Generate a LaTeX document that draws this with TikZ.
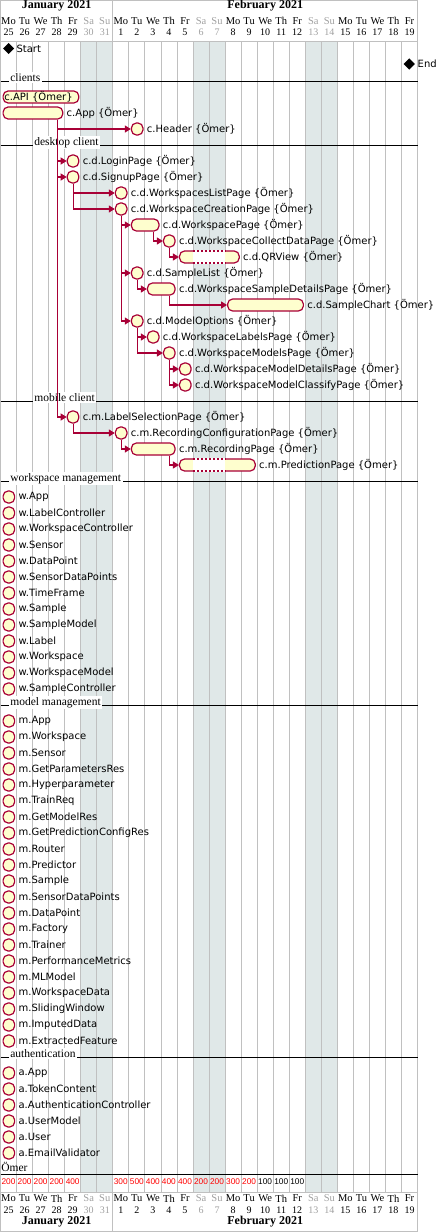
\documentclass[tikz,border=0pt]{standalone}
\usepackage{fontspec}
\usetikzlibrary{positioning,arrows.meta,shapes.geometric}
\newfontfamily\taskfont{DejaVu Sans}
\newfontfamily\calfont{Liberation Serif}
\newfontfamily\loadfont{Liberation Sans}
\definecolor{crim}{HTML}{A80036}
\definecolor{barfill}{HTML}{FEFECE}
\definecolor{offday}{HTML}{E0E8E8}
\definecolor{gridgray}{HTML}{C0C0C0}
\definecolor{offtext}{HTML}{A0A0A0}

\tikzset{every picture/.style={line width=0.75pt}}
\tikzset{
  gbar/.style={draw=crim, fill=barfill, line width=1.2pt, rounded corners=5pt, minimum height=12pt, inner sep=0pt, anchor=west},
  glabel/.style={font=\taskfont\fontsize{10}{12}\selectfont, inner sep=0pt},
  glink/.style={draw=crim, line width=1.2pt, -{Triangle[length=6pt,width=7pt]}},
  gsec/.style={font=\calfont\fontsize{11.5}{13}\selectfont, inner sep=1.5pt, fill=white, anchor=base west},
  gsepline/.style={draw=black, line width=0.9pt},
  mstone/.style={diamond, fill=black, inner sep=0pt, minimum width=11.5pt, minimum height=11.5pt},
  monthname/.style={font=\calfont\bfseries\fontsize{12}{14}\selectfont, inner sep=0pt},
  dayname/.style={font=\calfont\fontsize{10.5}{12}\selectfont, inner sep=0pt},
  daynum/.style={font=\calfont\fontsize{10}{12}\selectfont, inner sep=0pt},
  loadnum/.style={font=\loadfont\fontsize{8.3}{10}\selectfont, inner sep=0pt}
}

% task bar: name, row, first day, last day, label
\newcommand{\gtask}[5]{%
  \node[gbar, minimum width={16.04*(#4-#3+1)-4.5}] (#1) at ({2.5+16.04*#3},{49+16*#2}) {};
  \node[glabel, right=3pt of #1] (#1-l) {#5};}

\begin{document}
\begin{tikzpicture}[x=1pt,y=1pt,yscale=-1,xscale=1]
\useasboundingbox (0,0) rectangle (437,1232);

%Closed days
\foreach \d in {5,6,12,13,19,20}
  \fill[offday] ({0.5+16.04*\d},41) rectangle ({0.5+16.04*(\d+1)},1192);
%Day lines
\foreach \d in {1,...,25}
  \draw[gridgray] ({0.5+16.04*\d},41) -- ({0.5+16.04*\d},1192);
%Frame
\draw[gridgray] (0.5,0.5) rectangle (417.54,1231);
\draw[gridgray] (0.5,41) -- (417.54,41);
\draw[gridgray] (0.5,1192) -- (417.54,1192);
\draw[gridgray] (112.78,0.5) -- (112.78,41);
\draw[gridgray] (112.78,1192) -- (112.78,1231);

% Month Nodes
\node[monthname] (jan-top) at (56.6,6) {January 2021};
\node[monthname] (feb-top) at (265.2,6) {February 2021};
\node[monthname] (jan-bot) at (56.6,1221.5) {January 2021};
\node[monthname] (feb-bot) at (265.2,1221.5) {February 2021};

% Day Nodes
\foreach \d/\n/\m/\c in {0/Mo/25/black,1/Tu/26/black,2/We/27/black,3/Th/28/black,4/Fr/29/black,5/Sa/30/offtext,6/Su/31/offtext,
    7/Mo/1/black,8/Tu/2/black,9/We/3/black,10/Th/4/black,11/Fr/5/black,12/Sa/6/offtext,13/Su/7/offtext,
    14/Mo/8/black,15/Tu/9/black,16/We/10/black,17/Th/11/black,18/Fr/12/black,19/Sa/13/offtext,20/Su/14/offtext,
    21/Mo/15/black,22/Tu/16/black,23/We/17/black,24/Th/18/black,25/Fr/19/black}{
  \node[dayname, text=\c] at ({8.52+16.04*\d},21) {\n};
  \node[daynum, text=\c] at ({8.52+16.04*\d},32) {\m};
  \node[dayname, text=\c] at ({8.52+16.04*\d},1198.5) {\n};
  \node[daynum, text=\c] at ({8.52+16.04*\d},1210) {\m};
}

% Milestones
\node[mstone] (start) at (8.6,48.5) {};
\node[glabel, right=1.5pt of start] (start-l) {Start};
\node[mstone] (end) at (409.2,64) {};
\node[glabel, right=2pt of end] (end-l) {End};

% Separators
\draw[gsepline] (0.5,81) -- (417.54,81);
\node[gsec] (sec-clients) at (8.5,81) {clients};
\draw[gsepline] (0.5,145) -- (417.54,145);
\node[gsec] (sec-desktop) at (32.5,145) {desktop client};
\draw[gsepline] (0.5,401) -- (417.54,401);
\node[gsec] (sec-mobile) at (32.5,401) {mobile client};
\draw[gsepline] (0.5,481) -- (417.54,481);
\node[gsec] (sec-workspace) at (8.5,481) {workspace management};
\draw[gsepline] (0.5,705) -- (417.54,705);
\node[gsec] (sec-model) at (8.5,705) {model management};
\draw[gsepline] (0.5,1057) -- (417.54,1057);
\node[gsec] (sec-auth) at (8.5,1057) {authentication};

% clients
\node[gbar, minimum width={16.04*5-4.5}] (api) at (2.5,97) {};
\node[glabel, anchor=west] (api-l) at ([xshift=1.5pt]api.west) {c.API \{Ömer\}};
\gtask{app}{4}{0}{3}{c.App \{Ömer\}}
\gtask{header}{5}{8}{8}{c.Header \{Ömer\}}

% desktop client
\gtask{login}{7}{4}{4}{c.d.LoginPage \{Ömer\}}
\gtask{signup}{8}{4}{4}{c.d.SignupPage \{Ömer\}}
\gtask{wslist}{9}{7}{7}{c.d.WorkspacesListPage \{Ömer\}}
\gtask{wscreate}{10}{7}{7}{c.d.WorkspaceCreationPage \{Ömer\}}
\gtask{wspage}{11}{8}{9}{c.d.WorkspacePage \{Ömer\}}
\gtask{collect}{12}{10}{10}{c.d.WorkspaceCollectDataPage \{Ömer\}}
\gtask{qrview}{13}{11}{14}{c.d.QRView \{Ömer\}}
\gtask{samplelist}{14}{8}{8}{c.d.SampleList \{Ömer\}}
\gtask{sampledet}{15}{9}{10}{c.d.WorkspaceSampleDetailsPage \{Ömer\}}
\gtask{chart}{16}{14}{18}{c.d.SampleChart \{Ömer\}}
\gtask{modelopt}{17}{8}{8}{c.d.ModelOptions \{Ömer\}}
\gtask{labels}{18}{9}{9}{c.d.WorkspaceLabelsPage \{Ömer\}}
\gtask{models}{19}{10}{10}{c.d.WorkspaceModelsPage \{Ömer\}}
\gtask{modeldet}{20}{11}{11}{c.d.WorkspaceModelDetailsPage \{Ömer\}}
\gtask{classify}{21}{11}{11}{c.d.WorkspaceModelClassifyPage \{Ömer\}}

% mobile client
\gtask{labelsel}{23}{4}{4}{c.m.LabelSelectionPage \{Ömer\}}
\gtask{recconf}{24}{7}{7}{c.m.RecordingConfigurationPage \{Ömer\}}
\gtask{recording}{25}{8}{10}{c.m.RecordingPage \{Ömer\}}
\gtask{predict}{26}{11}{15}{c.m.PredictionPage \{Ömer\}}

%Weekend parts of the long tasks
\fill[white] (192.97,250.3) rectangle (225.06,263.7);
\draw[crim, line width=1.2pt, dash pattern=on 2pt off 2pt] (192.97,251) -- (225.06,251) (192.97,263) -- (225.06,263);
\fill[white] (192.97,458.3) rectangle (225.06,471.7);
\draw[crim, line width=1.2pt, dash pattern=on 2pt off 2pt] (192.97,459) -- (225.06,459) (192.97,471) -- (225.06,471);

% Links
\draw[glink] ([xshift=-6pt]app.south east) |- (header.west);
\draw[glink] ([xshift=-6pt]app.south east) |- (login.west);
\draw[glink] ([xshift=-6pt]app.south east) |- (signup.west);
\draw[glink] ([xshift=-6pt]app.south east) |- (labelsel.west);
\draw[glink] ([xshift=-6pt]signup.south east) |- (wslist.west);
\draw[glink] ([xshift=-6pt]signup.south east) |- (wscreate.west);
\draw[glink] ([xshift=-6pt]wscreate.south east) |- (wspage.west);
\draw[glink] ([xshift=-6pt]wscreate.south east) |- (samplelist.west);
\draw[glink] ([xshift=-6pt]wscreate.south east) |- (modelopt.west);
\draw[glink] ([xshift=-6pt]wspage.south east) |- (collect.west);
\draw[glink] ([xshift=-6pt]collect.south east) |- (qrview.west);
\draw[glink] ([xshift=-6pt]samplelist.south east) |- (sampledet.west);
\draw[glink] ([xshift=-6pt]sampledet.south east) |- (chart.west);
\draw[glink] ([xshift=-6pt]modelopt.south east) |- (labels.west);
\draw[glink] ([xshift=-6pt]modelopt.south east) |- (models.west);
\draw[glink] ([xshift=-6pt]models.south east) |- (modeldet.west);
\draw[glink] ([xshift=-6pt]models.south east) |- (classify.west);
\draw[glink] ([xshift=-6pt]labelsel.south east) |- (recconf.west);
\draw[glink] ([xshift=-6pt]recconf.south east) |- (recording.west);
\draw[glink] ([xshift=-6pt]recording.south east) |- (predict.west);

% workspace management
\gtask{w-app}{28}{0}{0}{w.App}
\gtask{w-labelctrl}{29}{0}{0}{w.LabelController}
\gtask{w-wsctrl}{30}{0}{0}{w.WorkspaceController}
\gtask{w-sensor}{31}{0}{0}{w.Sensor}
\gtask{w-datapoint}{32}{0}{0}{w.DataPoint}
\gtask{w-sensordp}{33}{0}{0}{w.SensorDataPoints}
\gtask{w-timeframe}{34}{0}{0}{w.TimeFrame}
\gtask{w-sample}{35}{0}{0}{w.Sample}
\gtask{w-samplemodel}{36}{0}{0}{w.SampleModel}
\gtask{w-label}{37}{0}{0}{w.Label}
\gtask{w-workspace}{38}{0}{0}{w.Workspace}
\gtask{w-wsmodel}{39}{0}{0}{w.WorkspaceModel}
\gtask{w-samplectrl}{40}{0}{0}{w.SampleController}

% model management
\gtask{m-app}{42}{0}{0}{m.App}
\gtask{m-workspace}{43}{0}{0}{m.Workspace}
\gtask{m-sensor}{44}{0}{0}{m.Sensor}
\gtask{m-getparams}{45}{0}{0}{m.GetParametersRes}
\gtask{m-hyper}{46}{0}{0}{m.Hyperparameter}
\gtask{m-trainreq}{47}{0}{0}{m.TrainReq}
\gtask{m-getmodel}{48}{0}{0}{m.GetModelRes}
\gtask{m-getpred}{49}{0}{0}{m.GetPredictionConfigRes}
\gtask{m-router}{50}{0}{0}{m.Router}
\gtask{m-predictor}{51}{0}{0}{m.Predictor}
\gtask{m-sample}{52}{0}{0}{m.Sample}
\gtask{m-sensordp}{53}{0}{0}{m.SensorDataPoints}
\gtask{m-datapoint}{54}{0}{0}{m.DataPoint}
\gtask{m-factory}{55}{0}{0}{m.Factory}
\gtask{m-trainer}{56}{0}{0}{m.Trainer}
\gtask{m-perf}{57}{0}{0}{m.PerformanceMetrics}
\gtask{m-mlmodel}{58}{0}{0}{m.MLModel}
\gtask{m-wsdata}{59}{0}{0}{m.WorkspaceData}
\gtask{m-window}{60}{0}{0}{m.SlidingWindow}
\gtask{m-imputed}{61}{0}{0}{m.ImputedData}
\gtask{m-feature}{62}{0}{0}{m.ExtractedFeature}

% authentication
\gtask{a-app}{64}{0}{0}{a.App}
\gtask{a-token}{65}{0}{0}{a.TokenContent}
\gtask{a-authctrl}{66}{0}{0}{a.AuthenticationController}
\gtask{a-usermodel}{67}{0}{0}{a.UserModel}
\gtask{a-user}{68}{0}{0}{a.User}
\gtask{a-email}{69}{0}{0}{a.EmailValidator}

% Resource
\node[font=\calfont\fontsize{11.5}{13}\selectfont, inner sep=0pt, anchor=west] (omer) at (1,1167) {Ömer};
\draw[line width=1.2pt] (0.5,1174.3) -- (417.54,1174.3);
\foreach \d/\v/\c in {0/200/red,1/200/red,2/200/red,3/200/red,4/400/red,7/300/red,8/500/red,9/400/red,10/400/red,
    11/400/red,12/200/red,13/200/red,14/300/red,15/200/red,16/100/black,17/100/black,18/100/black}
  \node[loadnum, text=\c] at ({8.52+16.04*\d},1182) {\v};

\end{tikzpicture}
\end{document}
